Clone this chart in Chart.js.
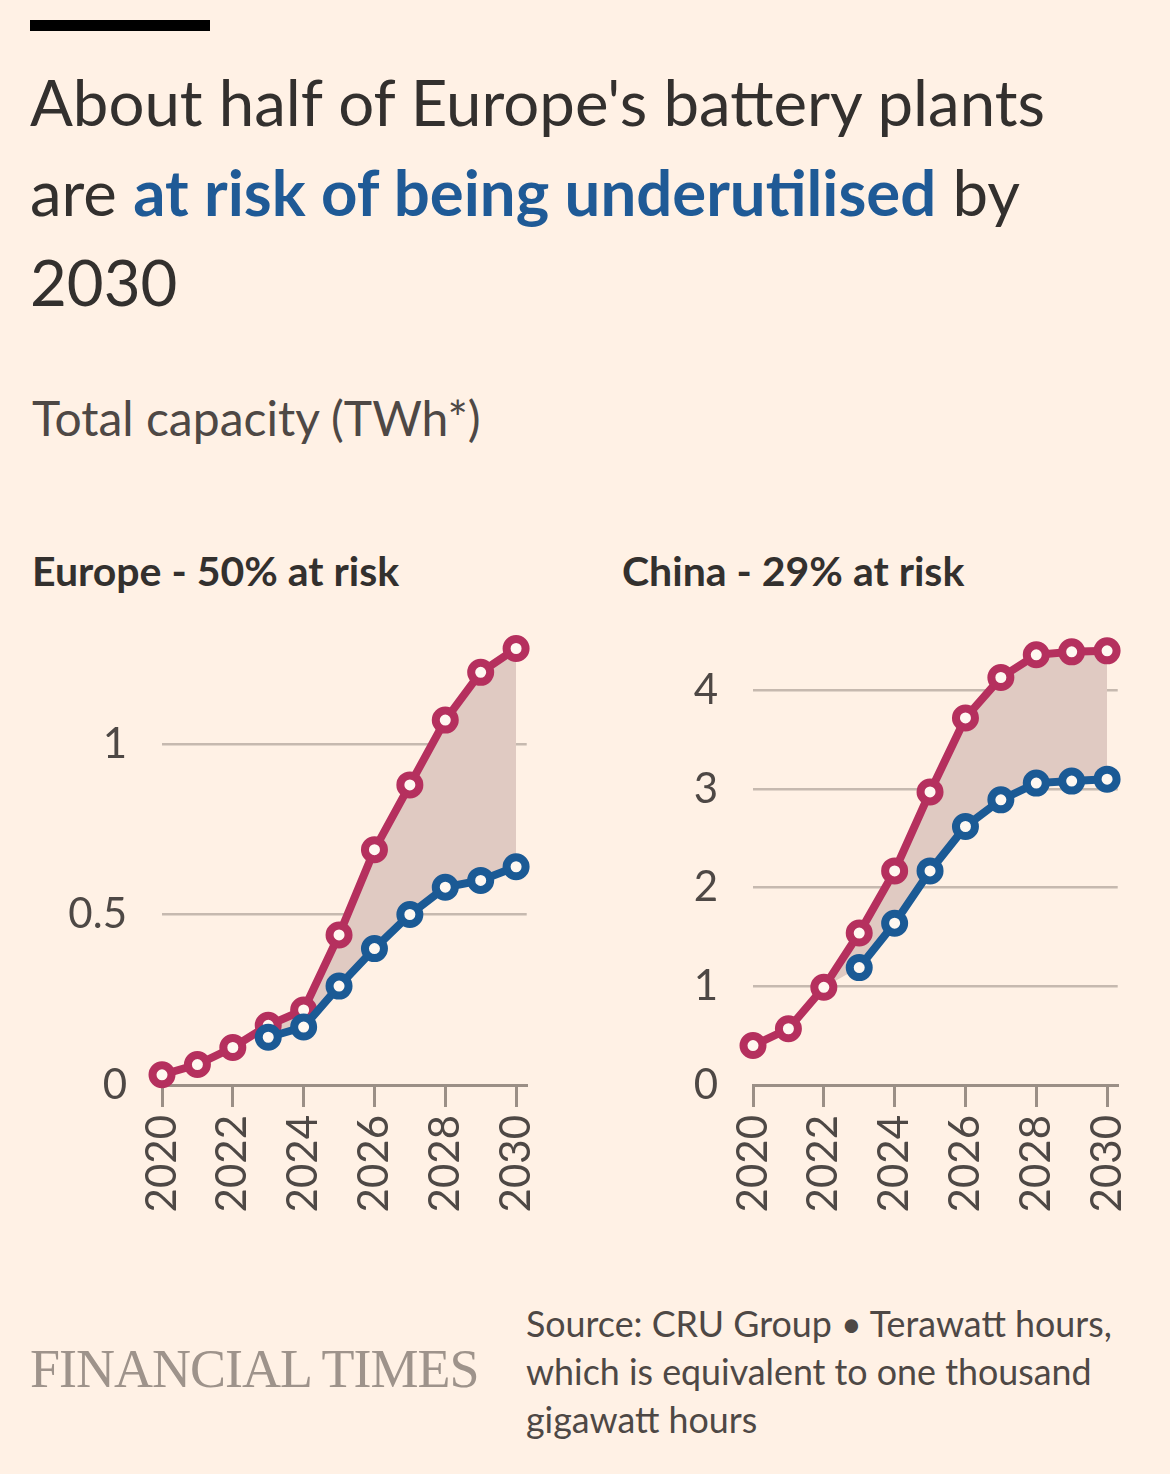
<!DOCTYPE html>
<html>
<head>
<meta charset="utf-8">
<script src="https://cdn.jsdelivr.net/npm/chart.js@4.4.1/dist/chart.umd.min.js"></script>
<style>
  html, body { margin: 0; padding: 0; background: #fff1e5; }
  body { width: 1170px; height: 1474px; position: relative; overflow: hidden; font-family: Lato, "Noto Sans", sans-serif; color: #33302e; }
  .bar { position: absolute; left: 30px; top: 20px; width: 180px; height: 11px; background: #000; }
  .title { position: absolute; left: 30px; top: 57px; font-size: 63.5px; line-height: 90px; margin: 0; font-weight: 400; white-space: nowrap; }
  .title b { color: #1f5a96; font-weight: 700; }
  .sub { position: absolute; left: 32px; top: 389px; font-size: 48px; color: #4e4845; }
  .panel { position: absolute; top: 546px; font-size: 41px; font-weight: 700; color: #33302e; }
  .box { position: absolute; top: 600px; height: 630px; }
  .ft { position: absolute; left: 30px; top: 1338px; font-family: "Liberation Serif", serif; font-size: 54px; color: #9e938b; letter-spacing: -1px; }
  .source { position: absolute; left: 526px; top: 1300px; font-size: 35.8px; line-height: 48px; color: #4e4845; white-space: nowrap; }
</style>
</head>
<body>
<div class="bar"></div>
<h1 class="title">About half of Europe's battery plants<br>are <b>at risk of being underutilised</b> by<br>2030</h1>
<div class="sub">Total capacity (TWh*)</div>
<div class="panel" style="left:32px">Europe - 50% at risk</div>
<div class="panel" style="left:622px">China - 29% at risk</div>
<div class="box" style="left:30px; width:545px"><canvas id="europe"></canvas></div>
<div class="box" style="left:620px; width:546px"><canvas id="china"></canvas></div>
<div class="ft">FINANCIAL TIMES</div>
<div class="source">Source: CRU Group • Terawatt hours,<br>which is equivalent to one thousand<br>gigawatt hours</div>

<script>
const years = [2020, 2021, 2022, 2023, 2024, 2025, 2026, 2027, 2028, 2029, 2030];

// Europe (TWh): total planned capacity vs capacity not at risk
const europeTotal = [0.03, 0.06, 0.11, 0.175, 0.22, 0.44, 0.69, 0.88, 1.07, 1.21, 1.28];
const europeSafe  = [null, null, null, 0.14, 0.17, 0.29, 0.40, 0.50, 0.58, 0.60, 0.64];
const europeTicks = [0, 0.5, 1];

// China (TWh)
const chinaTotal = [0.40, 0.57, 0.99, 1.54, 2.17, 2.97, 3.72, 4.13, 4.36, 4.39, 4.40];
const chinaSafe  = [null, null, null, 1.19, 1.64, 2.17, 2.62, 2.89, 3.06, 3.08, 3.10];
const chinaTicks = [0, 1, 2, 3, 4];

const RED = '#b5305e';
const BLUE = '#1b5a95';
const GAP = '#e0cac2';
const GRID = '#c6b9af';
const AXIS = '#9b8f86';

function pts(vals) {
  return years.map((x, i) => ({x, y: vals[i]})).filter(p => p.y !== null);
}

function makeChart(id, total, safe, ticks, yMax, fillFrom, yWidth) {
  // shaded band: from fillFrom onwards, between total and safe (safe falls back to total before it starts)
  const band = years.map((x, i) => i < fillFrom ? null : (safe[i] === null ? total[i] : safe[i]));
  const top = years.map((x, i) => i < fillFrom ? null : total[i]);

  const lineStyle = color => ({
    borderColor: color,
    borderWidth: 8,
    pointRadius: 9.5,
    pointBorderWidth: 8,
    pointBackgroundColor: '#fff8f1',
    pointBorderColor: color,
    fill: false,
    clip: false,
    tension: 0
  });

  return new Chart(document.getElementById(id), {
    type: 'line',
    data: {
      datasets: [
        Object.assign({data: pts(safe)}, lineStyle(BLUE)),
        Object.assign({data: pts(total)}, lineStyle(RED)),
        {data: pts(top), borderWidth: 0, pointRadius: 0, fill: 3, backgroundColor: GAP},
        {data: pts(band), borderWidth: 0, pointRadius: 0, fill: false}
      ]
    },
    options: {
      responsive: true,
      maintainAspectRatio: false,
      animation: false,
      events: [],
      layout: {padding: {top: 41, right: 0, left: 0, bottom: 0}},
      plugins: {legend: {display: false}, tooltip: {enabled: false}},
      scales: {
        x: {
          type: 'linear',
          min: 2020,
          max: 2030.3,
          afterFit: s => { s.height = 145; },
          afterBuildTicks: s => { s.ticks = years.filter(y => y % 2 === 0).map(v => ({value: v})); },
          border: {display: true, color: AXIS, width: 3},
          grid: {drawOnChartArea: false, drawTicks: true, tickLength: 22, color: AXIS, lineWidth: 3},
          ticks: {
            minRotation: 90, maxRotation: 90, padding: 8,
            color: '#4e4845', font: {family: 'Lato', size: 42},
            callback: v => String(v)
          }
        },
        y: {
          min: 0,
          max: yMax,
          afterFit: s => { s.width = yWidth; },
          afterBuildTicks: s => { s.ticks = ticks.map(v => ({value: v})); },
          border: {display: false},
          grid: {color: GRID, lineWidth: 2.5, drawTicks: true, tickLength: 35, tickColor: 'rgba(0,0,0,0)'},
          ticks: {
            padding: 0,
            color: '#4e4845', font: {family: 'Lato', size: 42},
            callback: v => String(v)
          }
        }
      }
    }
  });
}

makeChart('europe', europeTotal, europeSafe, europeTicks, 1.302, 3, 132);
makeChart('china', chinaTotal, chinaSafe, chinaTicks, 4.5, 2, 133);
</script>
</body>
</html>
